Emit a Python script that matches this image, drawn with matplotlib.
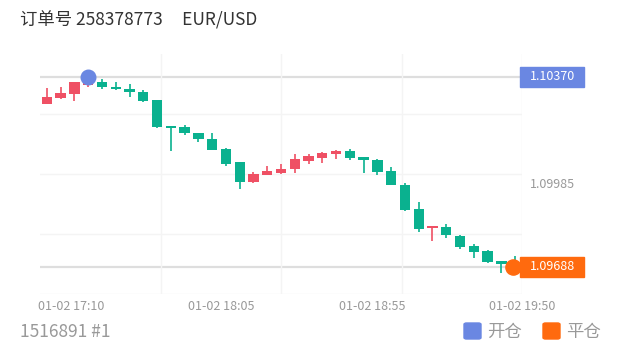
import matplotlib
matplotlib.use('Agg')
import matplotlib.pyplot as plt
from matplotlib.patches import Rectangle, FancyBboxPatch
import numpy as np

plt.rcParams['font.family'] = ['Noto Sans CJK SC', 'DejaVu Sans']

# 5-minute candles, 01-02 17:00 .. 19:50
opens = [1.10274, 1.10293, 1.10308, 1.10342, 1.10350, 1.10335, 1.10328, 1.10316, 1.10287, 1.10193,
         1.10191, 1.10169, 1.10148, 1.10112, 1.10063, 1.09994, 1.10017, 1.10025, 1.10038, 1.10069,
         1.10080, 1.10093, 1.10103, 1.10081, 1.10072, 1.10032, 1.09982, 1.09895, 1.09827, 1.09832,
         1.09800, 1.09762, 1.09746, 1.09709, 1.09697]
closes = [1.10296, 1.10311, 1.10350, 1.10350, 1.10335, 1.10328, 1.10315, 1.10285, 1.10191, 1.10187,
          1.10168, 1.10148, 1.10109, 1.10058, 1.09994, 1.10020, 1.10031, 1.10039, 1.10074, 1.10087,
          1.10096, 1.10105, 1.10078, 1.10073, 1.10027, 1.09982, 1.09892, 1.09824, 1.09832, 1.09801,
          1.09760, 1.09740, 1.09705, 1.09697, 1.09688]
highs = [1.10330, 1.10334, 1.10353, 1.10368, 1.10364, 1.10353, 1.10346, 1.10322, 1.10288, 1.10194,
         1.10196, 1.10170, 1.10169, 1.10113, 1.10064, 1.10030, 1.10050, 1.10056, 1.10094, 1.10093,
         1.10100, 1.10108, 1.10110, 1.10082, 1.10075, 1.10048, 1.09988, 1.09920, 1.09833, 1.09842,
         1.09801, 1.09771, 1.09747, 1.09710, 1.09728]
lows = [1.10271, 1.10292, 1.10284, 1.10334, 1.10328, 1.10323, 1.10299, 1.10280, 1.10186, 1.10104,
        1.10160, 1.10136, 1.10106, 1.10050, 1.09966, 1.09990, 1.10016, 1.10020, 1.10026, 1.10058,
        1.10062, 1.10074, 1.10070, 1.10024, 1.10017, 1.09981, 1.09889, 1.09814, 1.09782, 1.09791,
        1.09751, 1.09718, 1.09700, 1.09664, 1.09683]

x_labels = ['01-02 17:10', '01-02 18:05', '01-02 18:55', '01-02 19:50']
open_idx, open_price = 3, 1.10370
close_idx, close_price = 34, 1.09688
mid_label = 1.09985

up_color = '#EF5064'
down_color = '#0AB18F'
open_color = '#6A87E2'
close_color = '#FF6A0E'

fig = plt.figure(figsize=(6.2, 3.52), dpi=100)
ax = fig.add_axes([40 / 620, (352 - 293.5) / 352, 482 / 620, 240 / 352])
n = len(opens)
ax.set_xlim(-0.5, n - 0.5)
ylo, yhi = 1.09592, 1.10454
ax.set_ylim(ylo, yhi)

# grid
ax.set_xticks(np.linspace(-0.5, n - 0.5, 5)[1:])
ax.set_yticks(np.linspace(ylo, yhi, 5)[:-1])
ax.grid(True, color='#f4f4f4', lw=1)
ax.tick_params(length=0, labelbottom=False, labelleft=False)
for s in ax.spines.values():
    s.set_visible(False)

# open / close price lines
ax.axhline(open_price, color='#dedede', lw=1.6, zorder=1)
ax.axhline(close_price, color='#dedede', lw=1.6, zorder=1)

# candles
x = np.arange(n)
o = np.array(opens); c = np.array(closes)
cols = [up_color if cc >= oo else down_color for oo, cc in zip(o, c)]
ax.vlines(x, lows, highs, colors=cols, lw=1.2, zorder=2)
bottom = np.minimum(o, c)
height = np.maximum(np.abs(c - o), 0.00006)
ax.bar(x, height, bottom=bottom, width=0.75, color=cols, lw=0, zorder=3)

# trade markers
ax.scatter([open_idx], [open_price], s=110, color=open_color, zorder=5, clip_on=False)
ax.scatter([close_idx - 0.15], [close_price], s=120, color=close_color, zorder=5, clip_on=False)

# right-side price labels
ytr = ax.get_yaxis_transform()
bh = 20 * (yhi - ylo) / 240
for price, col in [(open_price, open_color), (close_price, close_color)]:
    ax.add_patch(Rectangle((0.996, price - bh / 2), 0.133, bh, transform=ytr,
                           color=col, clip_on=False, zorder=6))
    ax.text(1.0625, price, f'{price:.5f}', transform=ytr, color='white',
            fontsize=9, ha='center', va='center', zorder=7, clip_on=False)
ax.text(1.0625, mid_label, f'{mid_label:.5f}', transform=ytr, color='#999999',
        fontsize=9, ha='center', va='center', clip_on=False)

# x labels
for fx, lab in zip([0.064, 0.376, 0.689, 1.0], x_labels):
    ax.text(fx, -0.026, lab, transform=ax.transAxes, color='#999999',
            fontsize=9, ha='center', va='top')

# title and footer
fig.text(20 / 620, 1 - 20 / 352, '订单号 258378773     EUR/USD', color='#333333',
         fontsize=12.5, va='center', ha='left')
fig.text(20 / 620, 1 - 332 / 352, '1516891 #1', color='#999999',
         fontsize=12.5, va='center', ha='left')

# legend
for lx, tx, col, lab in [(464, 487, open_color, '开仓'), (543, 566, close_color, '平仓')]:
    fig.patches.append(FancyBboxPatch((lx / 620, 1 - 339 / 352), 17 / 620, 16 / 352,
                                      boxstyle='round,pad=0,rounding_size=0.004',
                                      transform=fig.transFigure, color=col))
    fig.text(tx / 620, 1 - 332 / 352, lab, color='#999999', fontsize=12.5,
             va='center', ha='left')

fig.savefig('out.png', dpi=100)
